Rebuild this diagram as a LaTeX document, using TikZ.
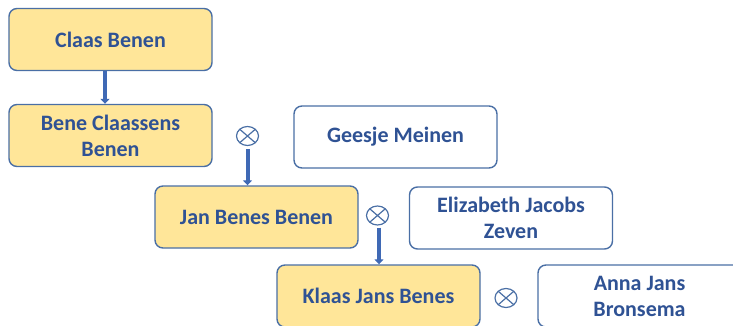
\documentclass[tikz,border=0pt]{standalone}
\usepackage{fontspec}
\setmainfont{Carlito}
\usetikzlibrary{arrows.meta,positioning,shapes.geometric}
\definecolor{persfill}{HTML}{FFE699}
\definecolor{persline}{HTML}{4A6FA5}
\definecolor{perstext}{HTML}{2F5294}
\definecolor{arrowblue}{HTML}{3F69B5}
\tikzset{
	person/.style={draw=persline, line width=1.4pt, rounded corners=8pt, minimum width=203pt, minimum height=62pt, inner sep=0pt, align=center, text=perstext, font=\fontsize{22}{26}\selectfont\bfseries},
	heir/.style={person, fill=persfill},
	spouse/.style={person, fill=white},
	wed/.style={draw=persline, line width=1.2pt, ellipse, minimum width=22pt, minimum height=19pt, inner sep=0pt, path picture={\draw[persline, line width=1.2pt] (path picture bounding box.north west) -- (path picture bounding box.south east) (path picture bounding box.north east) -- (path picture bounding box.south west);}},
	descent/.style={draw=arrowblue, line width=4pt, -{Triangle[width=9pt,length=5pt]}},
}
\begin{document}
\begin{tikzpicture}[x=1pt,y=-1pt]
	\clip (0,0) rectangle (733,326);
	\useasboundingbox (0,0) rectangle (733,326);
	\node [heir] (claas) at (110.5,39.5) {Claas Benen};
	\node [heir] (bene) at (110.5,135.5) {Bene Claassens\\Benen};
	\node [wed] (w1) at (247.5,136) {};
	\node [spouse] (geesje) at (395.5,137) {Geesje Meinen};
	\node [heir] (jan) at (256.5,217) {Jan Benes Benen};
	\node [wed] (w2) at (377.5,215.5) {};
	\node [spouse] (elizabeth) at (511,218) {Elizabeth Jacobs\\Zeven};
	\node [heir] (klaas) at (378.5,296) {Klaas Jans Benes};
	\node [wed] (w3) at (506,298) {};
	\node [spouse] (anna) at (639.5,296) {Anna Jans\\Bronsema};
	\draw [descent] ([xshift=-5.5pt]claas.south) -- ([xshift=-5.5pt]bene.north);
	\draw [descent, shorten <=3pt] (w1.south) -- (w1.south |- jan.north);
	\draw [descent, shorten <=2pt] ([xshift=1.5pt]w2.south) -- ([xshift=1.5pt]w2.south |- klaas.north);
	%\draw (bene) -- (w1) -- (geesje);
\end{tikzpicture}
\end{document}
